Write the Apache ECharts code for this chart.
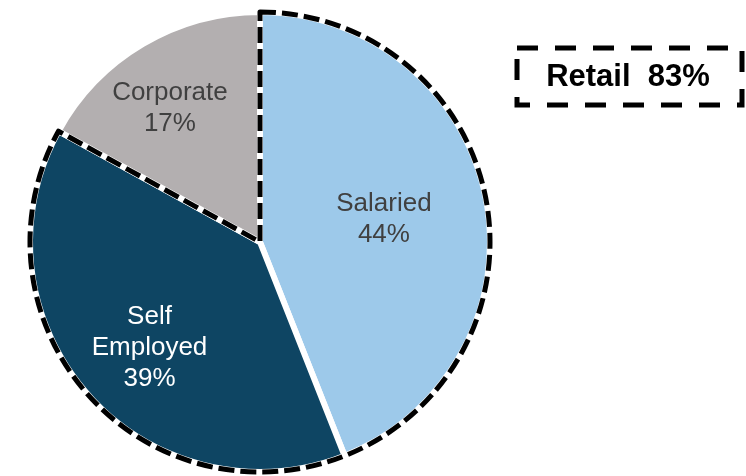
<!DOCTYPE html>
<html>
<head>
<meta charset="utf-8">
<script src="https://cdn.jsdelivr.net/npm/echarts@6/dist/echarts.min.js"></script>
<style>
  html, body { margin: 0; padding: 0; background: #fff; }
  #chart { width: 746px; height: 476px; }
</style>
</head>
<body>
<div id="chart"></div>
<script>
// Loan book split by customer segment (percent of total)
const categories = ['Salaried', 'Self Employed', 'Corporate'];
const shares = [44, 39, 17];
const labelNames = ['Salaried', 'Self\nEmployed', 'Corporate'];
const sliceColors = ['#9DC9EA', '#0E4563', '#B3AFB0'];
const labelColors = ['#404040', '#ffffff', '#404040'];

// Retail = Salaried + Self Employed, outlined as one group
const groupNames = ['Retail', 'Corporate'];
const groupShares = [83, 17];

// Label nudges from the default inside position (px)
const labelNudge = [[8, -1], [-22, 28], [-30, -32]];

const CENTER = [260, 242];
const FONT = '"Liberation Sans", Arial, sans-serif';

const chart = echarts.init(document.getElementById('chart'), null, { renderer: 'canvas' });

chart.setOption({
  animation: false,
  backgroundColor: '#ffffff',
  series: [
    {
      type: 'pie',
      center: CENTER,
      radius: 230,
      startAngle: 90,
      clockwise: true,
      silent: true,
      avoidLabelOverlap: false,
      itemStyle: { borderColor: '#ffffff', borderWidth: 6 },
      label: {
        show: true,
        position: 'inside',
        fontFamily: FONT,
        fontSize: 26,
        lineHeight: 31,
        align: 'center',
        formatter: p => labelNames[p.dataIndex] + '\n' + p.value + '%'
      },
      labelLine: { show: false },
      labelLayout: p => ({ dx: labelNudge[p.dataIndex][0], dy: labelNudge[p.dataIndex][1] }),
      data: categories.map((c, i) => ({
        name: c,
        value: shares[i],
        itemStyle: { color: sliceColors[i] },
        label: { color: labelColors[i] }
      }))
    },
    {
      type: 'pie',
      center: CENTER,
      radius: 230,
      startAngle: 90,
      clockwise: true,
      silent: true,
      z: 5,
      label: { show: false },
      labelLine: { show: false },
      data: groupNames.map((g, i) => ({
        name: g,
        value: groupShares[i],
        itemStyle: i === 0
          ? { color: 'rgba(0,0,0,0)', borderColor: '#000000', borderWidth: 5, borderType: [16, 6] }
          : { color: 'rgba(0,0,0,0)', borderWidth: 0 }
      }))
    }
  ],
  graphic: [
    {
      type: 'rect',
      shape: { x: 517, y: 48, width: 225, height: 57 },
      style: { fill: 'none', stroke: '#000000', lineWidth: 5, lineDash: [21, 17] },
      silent: true
    },
    {
      type: 'text',
      style: {
        text: groupNames[0] + '  ' + groupShares[0] + '%',
        x: 628,
        y: 77,
        textAlign: 'center',
        textVerticalAlign: 'middle',
        font: 'bold 31px ' + FONT,
        fill: '#000000'
      },
      silent: true
    }
  ]
});
</script>
</body>
</html>
